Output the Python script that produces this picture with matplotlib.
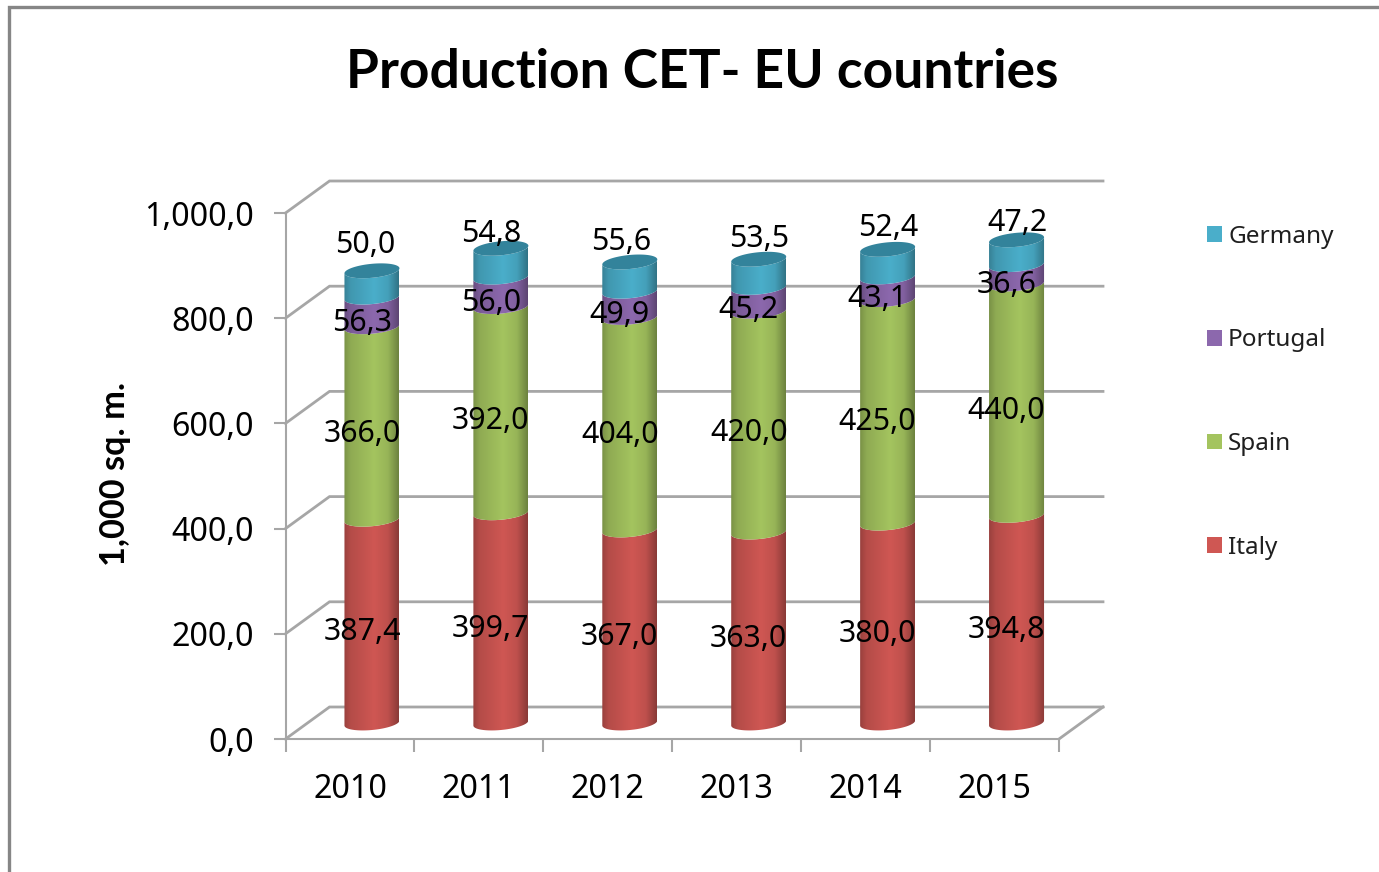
import numpy as np
import matplotlib
matplotlib.use("Agg")
import matplotlib.pyplot as plt
from matplotlib.lines import Line2D
from matplotlib.patches import Patch, Polygon

# Dados
years = ["2010", "2011", "2012", "2013", "2014", "2015"]
italy = [387.4, 399.7, 367.0, 363.0, 380.0, 394.8]
spain = [366.0, 392.0, 404.0, 420.0, 425.0, 440.0]
portugal = [56.3, 56.0, 49.9, 45.2, 43.1, 36.6]
germany = [50.0, 54.8, 55.6, 53.5, 52.4, 47.2]
series_names = ["Italy", "Spain", "Portugal", "Germany"]
y_ticks = [0, 200, 400, 600, 800, 1000]
y_tick_labels = ["0,0", "200,0", "400,0", "600,0", "800,0", "1,000,0"]

# Cores
mid_colors = ["#cf5753", "#a4c45f", "#8c68ad", "#4aaeca"]
top_colors = ["#8f3a38", "#6f8a3e", "#5f4678", "#33839b"]
grid_color = "#a6a6a6"

# Ajuste fino dos rótulos do topo (pixels)
top_label_dx = [-7, -10, -9, 0, 1, 1]
top_label_dy = [26, 14, 20, 20, 21, 17]

W, H = 1379, 872
fig = plt.figure(figsize=(W / 100, H / 100), dpi=100, facecolor="white")
ax = fig.add_axes([285.5 / W, (H - 739) / H, (1059 - 285.5) / W, 526 / H])
ax.patch.set_visible(False)

px_x = (1059 - 285.5) / 6  # pixels por categoria
px_y = 526 / 1000  # pixels por unidade

# Profundidade do gráfico 3D em unidades de dados
depth_x = 44 / px_x
depth_y = 32 / px_y
x_left, x_right = -0.5, 5.5

# Paredes e chão
for v in y_ticks:
    ax.plot([x_left, x_left + depth_x, x_right + depth_x], [v, v + depth_y, v + depth_y],
            color=grid_color, lw=2, clip_on=False, zorder=1, solid_joinstyle="miter")
ax.plot([x_right, x_right + depth_x], [0, depth_y], color=grid_color, lw=2, clip_on=False, zorder=1)

# Cilindros
half_w = 27.5 / px_x
ell_b = 7 / px_y
ell_tilt = 2.5 / px_y
shade_pos = [0, 0.12, 0.55, 0.8, 1]
shade_val = [0.74, 0.87, 1.0, 0.92, 0.66]
t = np.linspace(0, np.pi, 60)


def lower_arc(cx, level):
    # direita para esquerda, parte de baixo da elipse
    return cx + half_w * np.cos(t), level + ell_tilt * np.cos(t) - ell_b * np.sin(t)


def upper_arc(cx, level):
    return cx - half_w * np.cos(t), level - ell_tilt * np.cos(t) + ell_b * np.sin(t)


stack = np.array([italy, spain, portugal, germany])
shade = np.interp(np.linspace(0, 1, 256), shade_pos, shade_val)

for i in range(len(years)):
    cx = i + depth_x / 2
    base = depth_y / 2
    for s in range(4):
        top = base + stack[s, i]
        bx, by = lower_arc(cx, base)
        ux, uy = lower_arc(cx, top)
        xs = np.concatenate([bx, ux[::-1]])
        ys = np.concatenate([by, uy[::-1]])
        rgb = np.array(matplotlib.colors.to_rgb(mid_colors[s]))
        grad = (shade[:, None] * rgb)[None, :, :]
        im = ax.imshow(grad, extent=(cx - half_w, cx + half_w, base - 2 * ell_b, top + 2 * ell_b),
                       aspect="auto", origin="lower", interpolation="bilinear", zorder=2 + s * 0.1)
        clip = Polygon(np.column_stack([xs, ys]), closed=True, transform=ax.transData)
        im.set_clip_path(clip)
        # rótulo do segmento
        mid = base + stack[s, i] / 2
        if s < 3:
            ax.annotate(f"{stack[s, i]:.1f}".replace(".", ","), (cx, mid), xytext=(-10, -11),
                        textcoords="offset pixels", ha="center", va="center",
                        fontsize=21.8, family="Noto Sans", color="black", zorder=5)
        else:
            ax.annotate(f"{stack[s, i]:.1f}".replace(".", ","), (cx, top),
                        xytext=(top_label_dx[i], top_label_dy[i]),
                        textcoords="offset pixels", ha="center", va="center",
                        fontsize=21.8, family="Noto Sans", color="black", zorder=5)
            # tampa do cilindro
            lx, ly = lower_arc(cx, top)
            hx, hy = upper_arc(cx, top)
            ax.fill(np.concatenate([lx, hx]), np.concatenate([ly, hy]),
                    color=top_colors[s], lw=0, zorder=3)
        base = top

ax.set_xlim(x_left, x_right)
ax.set_ylim(0, 1000)

# Eixos
for side in ["top", "right"]:
    ax.spines[side].set_visible(False)
for side in ["left", "bottom"]:
    ax.spines[side].set_color(grid_color)
    ax.spines[side].set_linewidth(1.5)
ax.set_yticks(y_ticks)
ax.set_yticklabels(y_tick_labels, fontsize=23.2, family="Noto Sans")
ax.set_xticks(range(len(years)))
ax.set_xticklabels(years, fontsize=23.2, family="Noto Sans")
ax.set_xticks(np.arange(x_left, x_right + 1), minor=True)
ax.tick_params(axis="y", length=9, width=1.5, color=grid_color, pad=14)
ax.tick_params(axis="x", which="major", length=0, pad=24.5)
ax.tick_params(axis="x", which="minor", length=9, width=1.5, color=grid_color)

# Títulos
fig.text(702 / W, 1 - 72 / H, "Production CET- EU countries", ha="center", va="center",
         fontsize=38.4, fontweight="bold", family="Lato")
fig.text(115 / W, 1 - 474 / H, "1,000 sq. m.", rotation=90, ha="center", va="center",
         fontsize=24.7, fontweight="bold", family="Lato")

# Legenda
handles = [Patch(facecolor=mid_colors[s], edgecolor="none") for s in range(3, -1, -1)]
fig.legend(handles, series_names[::-1], loc="upper left", bbox_to_anchor=(1185 / W, 1 - 203 / H),
           frameon=False, labelspacing=3.275, handlelength=0.62, handleheight=0.62, handletextpad=0.25,
           borderpad=0.4, prop={"family": "Noto Sans", "size": 17.5}, labelcolor="#1f1f1f")

# Moldura do gráfico
fig.add_artist(Line2D([9 / W, 9 / W, 1], [0, 1 - 7 / H, 1 - 7 / H], color="#868686", lw=2.4,
                      solid_joinstyle="miter"))

fig.savefig("out.png", dpi=100)
